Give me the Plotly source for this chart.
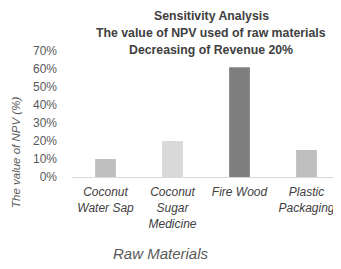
import plotly.graph_objects as go

categories = ["Coconut<br>Water Sap", "Coconut<br>Sugar<br>Medicine", "Fire Wood", "Plastic<br>Packaging"]
npv_values = [10, 20, 61, 15]
bar_colors = ["#bfbfbf", "#d9d9d9", "#7f7f7f", "#bfbfbf"]
tick_vals = [0, 10, 20, 30, 40, 50, 60, 70]
tick_text = ["0%", "10%", "20%", "30%", "40%", "50%", "60%", "70%"]
title_lines = ["Sensitivity Analysis", "The value of NPV used of raw materials", "Decreasing of Revenue 20%"]

# page has an 8px body margin, so the figure is drawn 8px in from the top-left
OFF = 8
W, H = 341 - OFF, 269 - OFF
L, R, T, B = 72 - OFF, 1, 51 - OFF, 92
PW, PH = W - L - R, H - T - B


def px(x):
    return (x - OFF - L) / PW


def py(y):
    return 1 - (y - OFF - T) / PH


fig = go.Figure(go.Bar(
    x=categories, y=npv_values, marker=dict(color=bar_colors, line=dict(width=0)),
    width=0.31,
))

annotations = []
for i, line in enumerate(title_lines):
    annotations.append(dict(
        text="<b>" + line + "</b>", xref="paper", yref="paper",
        x=px(211), y=py(16 + 17 * i), xanchor="center", yanchor="middle",
        showarrow=False,
        font=dict(size=12.3, color="#404040", family="Liberation Sans, Arial, sans-serif"),
    ))
annotations.append(dict(
    text="The value of NPV (%)", textangle=-90, xref="paper", yref="paper",
    x=px(16), y=py(153), xanchor="center", yanchor="middle", showarrow=False,
    font=dict(size=11.5, color="#595959", style="italic")))
annotations.append(dict(
    text="Raw Materials", xref="paper", yref="paper",
    x=px(161), y=py(253), xanchor="center", yanchor="middle", showarrow=False,
    font=dict(size=15, color="#595959", style="italic")))

fig.update_layout(
    width=W, height=H,
    margin=dict(l=L, r=R, t=T, b=B, pad=0),
    paper_bgcolor="white", plot_bgcolor="white",
    showlegend=False,
    font=dict(family="Liberation Sans, Arial, sans-serif", color="#595959"),
    xaxis=dict(
        showgrid=False, showline=True, linecolor="#d9d9d9", linewidth=1,
        ticks="", tickfont=dict(size=12, color="#404040", style="italic"),
        ticklabelstandoff=4,
    ),
    yaxis=dict(
        range=[0, 70], tickvals=tick_vals, ticktext=tick_text,
        showgrid=False, zeroline=False, showline=False, ticks="",
        tickfont=dict(size=12, color="#595959"), ticklabelstandoff=14,
    ),
    annotations=annotations,
)

fig.write_html("out.html")
